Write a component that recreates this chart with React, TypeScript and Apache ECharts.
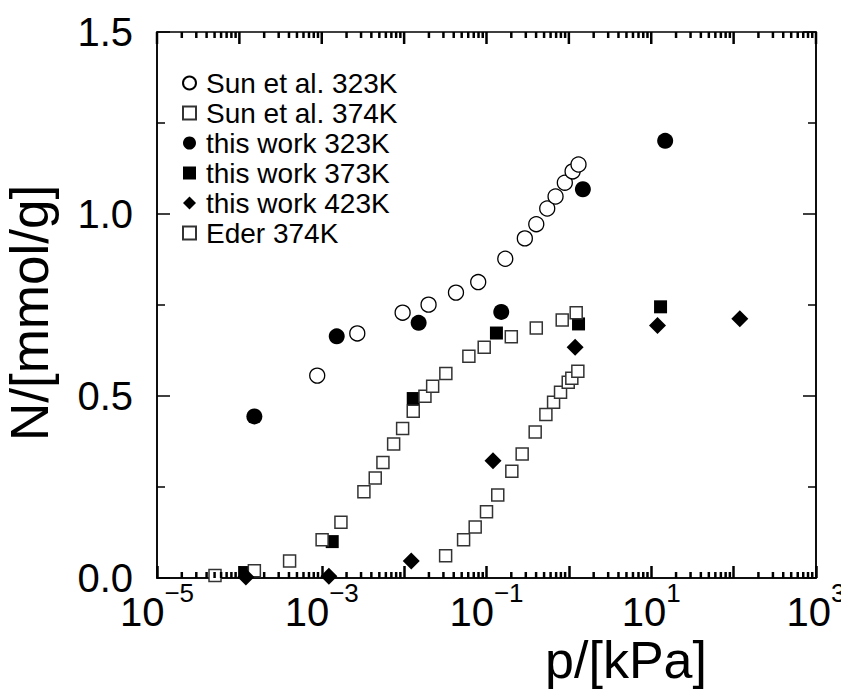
import React, { useEffect, useRef } from "react";
import * as echarts from "echarts";

// ---- data (p in kPa, N in mmol/g) ----
const sun323P = [8.81e-4, 2.7e-3, 9.59e-3, 1.98e-2, 4.26e-2, 7.93e-2, 0.169, 0.292, 0.402, 0.546, 0.689, 0.893, 1.109, 1.309];
const sun323N = [0.556, 0.672, 0.729, 0.751, 0.784, 0.813, 0.877, 0.933, 0.972, 1.015, 1.048, 1.086, 1.117, 1.136];

const sun374P = [5.06e-5, 1.52e-4, 4.07e-4, 1.01e-3, 1.71e-3, 3.25e-3, 4.46e-3, 5.53e-3, 7.46e-3, 9.59e-3, 1.29e-2, 1.79e-2, 2.22e-2, 3.21e-2, 6.11e-2, 9.38e-2, 0.2, 0.402, 0.83, 1.227];
const sun374N = [0.007, 0.02, 0.047, 0.105, 0.153, 0.237, 0.275, 0.317, 0.368, 0.411, 0.458, 0.499, 0.527, 0.562, 0.609, 0.634, 0.663, 0.687, 0.709, 0.729];

const this323P = [1.52e-4, 1.52e-3, 1.5e-2, 0.151, 1.479, 14.76];
const this323N = [0.444, 0.664, 0.701, 0.731, 1.068, 1.201];

const this373P = [1.17e-4, 1.34e-3, 1.29e-2, 0.132, 1.31, 12.97];
const this373N = [0.015, 0.1, 0.493, 0.673, 0.698, 0.745];

const this423P = [1.2e-4, 1.22e-3, 1.22e-2, 0.12, 1.19, 11.9, 118.9];
const this423N = [0.003, 0.005, 0.047, 0.322, 0.634, 0.694, 0.712];

const eder374P = [3.19e-2, 5.27e-2, 7.29e-2, 0.1, 0.137, 0.203, 0.271, 0.39, 0.526, 0.652, 0.792, 0.982, 1.086, 1.285];
const eder374N = [0.061, 0.105, 0.14, 0.182, 0.228, 0.293, 0.341, 0.401, 0.449, 0.483, 0.51, 0.538, 0.549, 0.568];

const seriesNames = ["Sun et al. 323K", "Sun et al. 374K", "this work 323K", "this work 373K", "this work 423K", "Eder 374K"];

// axis
const xMin = 1e-5;
const xMax = 1e3;
const yMin = 0;
const yMax = 1.5;
const decadeExps = [-5, -4, -3, -2, -1, 0, 1, 2, 3];
const minorTickMult = [2, 3, 4, 5, 6, 7, 8, 9];

const FONT = "'Liberation Sans', Arial, Helvetica, sans-serif";

const zip = (xs: number[], ys: number[]) => xs.map((x, i) => [x, ys[i]]);

const xMajorTicks: number[] = decadeExps.map((e) => Math.pow(10, e));
const xMinorTicks: number[] = [];
decadeExps.forEach((e) => {
  if (e < 3) minorTickMult.forEach((m) => xMinorTicks.push(m * Math.pow(10, e)));
});

export default function App() {
  const ref = useRef<HTMLDivElement>(null);

  useEffect(() => {
    document.body.style.margin = "0";
    if (!ref.current) return;
    const chart = echarts.init(ref.current, undefined, { renderer: "svg" });

    const openCircle = { color: "#fff", borderColor: "#000", borderWidth: 1.3, opacity: 1 };
    const openSquare = { color: "#fff", borderColor: "#333", borderWidth: 1.5, opacity: 1 };
    const filled = { color: "#000", opacity: 1 };

    const tickSeries = (name: string, vals: number[], y: number, len: number, dir: number) => ({
      type: "scatter",
      name,
      symbol: "rect",
      symbolSize: [2.5, len],
      symbolOffset: [0, (dir * len) / 2],
      clip: false,
      itemStyle: { color: "#000", opacity: 1 },
      data: vals.map((v) => [v, y]),
    });

    const option: any = {
      animation: false,
      grid: {
        left: 157,
        right: 25,
        top: 32,
        bottom: 111,
        containLabel: false,
        outerBoundsMode: "none",
        show: true,
        borderColor: "#000",
        borderWidth: 1.5,
        backgroundColor: "transparent",
      },
      legend: {
        orient: "vertical",
        left: 182,
        top: 69,
        padding: 0,
        itemWidth: 13,
        itemHeight: 13,
        itemGap: 2,
        data: seriesNames,
        textStyle: { fontSize: 28, color: "#000", fontFamily: FONT, padding: [0, 0, 0, 5] },
      },
      xAxis: {
        type: "log",
        logBase: 10,
        min: xMin,
        max: xMax,
        axisLine: { show: true, onZero: false, lineStyle: { color: "#000", width: 1.5 } },
        axisTick: { show: true, inside: true, length: 12, lineStyle: { color: "#000", width: 2.5 } },
        splitLine: { show: false },
        axisLabel: {
          margin: 2,
          color: "#000",
          fontFamily: FONT,
          formatter: (v: number) => {
            const e = Math.round(Math.log10(v));
            if (Math.abs(e) % 2 !== 1) return "";
            const s = e < 0 ? "\u2212" + Math.abs(e) : String(e);
            return "{b|10}{s|" + s + "}";
          },
          rich: {
            b: { fontSize: 40, fontFamily: FONT, color: "#000", padding: [12, 0, 0, 0] },
            s: { fontSize: 26, fontFamily: FONT, color: "#000", verticalAlign: "top" },
          },
        },
      },
      yAxis: [
        {
          type: "value",
          min: yMin,
          max: yMax,
          interval: 0.5,
          position: "left",
          axisLine: { show: true, lineStyle: { color: "#000", width: 1.5 } },
          axisTick: { show: true, inside: true, length: 13, lineStyle: { color: "#000", width: 1.5 } },
          minorTick: { show: true, splitNumber: 2, length: 8, lineStyle: { color: "#000", width: 1.5 } },
          splitLine: { show: false },
          minorSplitLine: { show: false },
          axisLabel: {
            margin: 24,
            fontSize: 40,
            color: "#000",
            fontFamily: FONT,
            formatter: (v: number) => v.toFixed(1),
          },
        },
        {
          type: "value",
          min: yMin,
          max: yMax,
          interval: 0.5,
          position: "right",
          axisLine: { show: true, lineStyle: { color: "#000", width: 1.5 } },
          axisTick: { show: true, inside: true, length: 13, lineStyle: { color: "#000", width: 1.5 } },
          minorTick: { show: true, splitNumber: 2, length: 8, lineStyle: { color: "#000", width: 1.5 } },
          splitLine: { show: false },
          minorSplitLine: { show: false },
          axisLabel: { show: false },
        },
      ],
      graphic: [
        {
          type: "text",
          x: 626,
          y: 634,
          style: { text: "p/[kPa]", fontSize: 52, fontFamily: FONT, fill: "#000", align: "center", verticalAlign: "top" },
        },
        {
          type: "text",
          x: 3,
          y: 313,
          rotation: Math.PI / 2,
          style: {
            text: "N/[mmol/g]",
            fontSize: 53,
            fontFamily: FONT,
            fill: "#000",
            align: "center",
            verticalAlign: "top",
          },
        },
      ],
      series: [
        {
          type: "scatter",
          name: "Sun et al. 323K",
          symbol: "circle",
          symbolSize: 15,
          itemStyle: openCircle,
          data: zip(sun323P, sun323N),
        },
        {
          type: "scatter",
          name: "this work 323K",
          symbol: "circle",
          symbolSize: 16,
          itemStyle: filled,
          data: zip(this323P, this323N),
        },
        {
          type: "scatter",
          name: "this work 373K",
          symbol: "rect",
          symbolSize: 13,
          itemStyle: filled,
          data: zip(this373P, this373N),
        },
        {
          type: "scatter",
          name: "this work 423K",
          symbol: "diamond",
          symbolSize: 17,
          itemStyle: filled,
          data: zip(this423P, this423N),
          z: 3,
        },
        {
          type: "scatter",
          name: "Sun et al. 374K",
          symbol: "rect",
          symbolSize: 12,
          itemStyle: openSquare,
          data: zip(sun374P, sun374N),
        },
        {
          type: "scatter",
          name: "Eder 374K",
          symbol: "rect",
          symbolSize: 12,
          itemStyle: openSquare,
          data: zip(eder374P, eder374N),
        },
        tickSeries("tickBottomMinor", xMinorTicks, yMin, 6, -1),
        tickSeries("tickTopMinor", xMinorTicks, yMax, 6, 1),
        tickSeries("tickTopMajor", xMajorTicks, yMax, 12, 1),
      ],
    };

    chart.setOption(option);
    return () => chart.dispose();
  }, []);

  return <div ref={ref} style={{ width: 841, height: 689 }} />;
}
